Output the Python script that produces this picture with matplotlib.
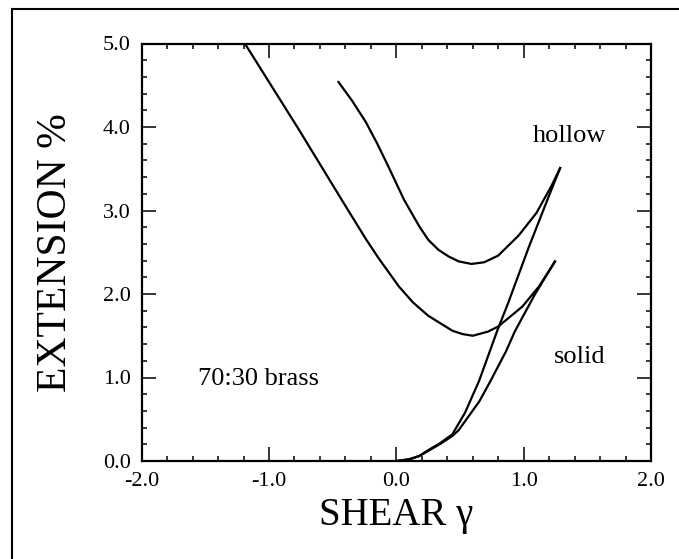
import matplotlib
matplotlib.use("Agg")
import matplotlib.pyplot as plt
from matplotlib.lines import Line2D
from matplotlib.ticker import MultipleLocator

plt.rcParams["font.family"] = ["Liberation Serif", "DejaVu Serif"]

# ---------------- DATA ----------------
# solid specimen: U-shaped branch and rising branch
solid_u_x = [-1.19, -0.77, -0.43, -0.24, -0.14, 0.02, 0.13, 0.25, 0.44, 0.52, 0.60, 0.72, 0.80, 0.99, 1.12, 1.25]
solid_u_y = [5.00, 3.98, 3.13, 2.66, 2.43, 2.09, 1.90, 1.74, 1.56, 1.52, 1.50, 1.55, 1.61, 1.85, 2.09, 2.40]

solid_r_x = [0.00, 0.10, 0.18, 0.25, 0.34, 0.44, 0.49, 0.56, 0.65, 0.74, 0.86, 0.93, 0.99, 1.09, 1.17, 1.25]
solid_r_y = [0.00, 0.02, 0.06, 0.12, 0.20, 0.30, 0.37, 0.52, 0.71, 0.96, 1.31, 1.55, 1.72, 2.00, 2.20, 2.40]

# hollow specimen: U-shaped branch and rising branch
hollow_u_x = [-0.46, -0.35, -0.24, -0.15, -0.07, 0.06, 0.18, 0.25, 0.33, 0.41, 0.49, 0.59, 0.69, 0.80, 0.96, 1.10, 1.22, 1.29]
hollow_u_y = [4.55, 4.32, 4.06, 3.80, 3.55, 3.13, 2.81, 2.65, 2.53, 2.45, 2.39, 2.36, 2.38, 2.46, 2.70, 2.97, 3.30, 3.52]

hollow_r_x = [0.00, 0.10, 0.18, 0.25, 0.34, 0.44, 0.54, 0.65, 0.79, 0.88, 1.04, 1.21, 1.29]
hollow_r_y = [0.00, 0.02, 0.06, 0.13, 0.21, 0.32, 0.58, 0.96, 1.55, 1.90, 2.56, 3.22, 3.52]

x_ticks = [-2.0, -1.0, 0.0, 1.0, 2.0]
y_ticks = [0.0, 1.0, 2.0, 3.0, 4.0, 5.0]

# ---------------- FIGURE ----------------
fig = plt.figure(figsize=(6.79, 5.59), dpi=100)
ax = fig.add_axes([141.7 / 679, 1 - 461 / 559, (651 - 141.7) / 679, (461 - 43.5) / 559])

kw = dict(color="black", lw=1.6, solid_capstyle="butt", solid_joinstyle="round")
ax.plot(solid_u_x, solid_u_y, **kw)
ax.plot(solid_r_x, solid_r_y, **kw)
ax.plot(hollow_u_x, hollow_u_y, **kw)
ax.plot(hollow_r_x, hollow_r_y, **kw)

ax.text(1.36, 3.89, "hollow", fontsize=19, ha="center", va="center")
ax.text(1.44, 1.25, "solid", fontsize=19, ha="center", va="center")
ax.text(-1.08, 0.985, "70:30 brass", fontsize=19, ha="center", va="center")

ax.set_xlim(-2.0, 2.0)
ax.set_ylim(0.0, 5.0)
ax.set_xticks(x_ticks)
ax.set_yticks(y_ticks)
ax.set_xticklabels([f"{v:.1f}" for v in x_ticks])
ax.set_yticklabels([f"{v:.1f}" for v in y_ticks])
ax.xaxis.set_minor_locator(MultipleLocator(0.2))
ax.yaxis.set_minor_locator(MultipleLocator(0.2))
ax.tick_params(which="both", direction="in", top=True, right=True, width=1.1)
ax.tick_params(which="major", length=10, labelsize=16, pad=8)
ax.tick_params(which="minor", length=3.6)
for sp in ax.spines.values():
    sp.set_linewidth(1.6)

ax.set_xlabel("SHEAR γ", fontsize=28, labelpad=4)
ax.set_ylabel("EXTENSION %", fontsize=30, labelpad=20)

# outer frame (left and top edges visible)
fig.add_artist(Line2D([12 / 679, 12 / 679], [0, 1 - 9 / 559], color="black", lw=1.5,
                      transform=fig.transFigure))
fig.add_artist(Line2D([12 / 679, 1], [1 - 9 / 559, 1 - 9 / 559], color="black", lw=1.5,
                      transform=fig.transFigure))

fig.savefig("out.png", dpi=100)
